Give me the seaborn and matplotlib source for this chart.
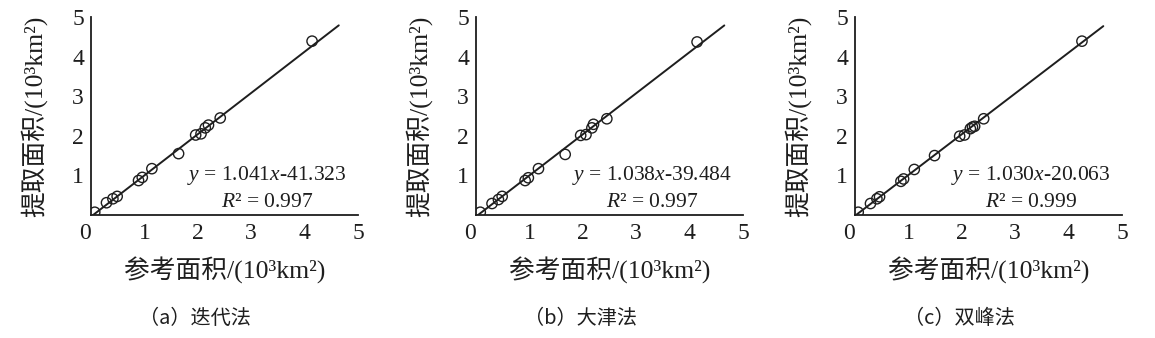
import matplotlib
matplotlib.use("Agg")
import matplotlib.pyplot as plt
import seaborn as sns
import numpy as np
import pandas as pd

# ---- data (units: 10^3 km^2) ----
ref_a = [0.07, 0.29, 0.41, 0.49, 0.89, 0.96, 1.14, 1.64, 1.96, 2.06, 2.14, 2.20, 2.42, 4.14]
ext_a = [0.07, 0.31, 0.41, 0.47, 0.87, 0.95, 1.17, 1.55, 2.02, 2.05, 2.20, 2.27, 2.45, 4.39]
ref_b = [0.08, 0.30, 0.42, 0.49, 0.92, 0.98, 1.17, 1.67, 1.96, 2.06, 2.17, 2.20, 2.45, 4.14]
ext_b = [0.07, 0.29, 0.39, 0.47, 0.87, 0.94, 1.17, 1.53, 2.01, 2.03, 2.20, 2.29, 2.43, 4.37]
ref_c = [0.06, 0.29, 0.41, 0.46, 0.86, 0.91, 1.11, 1.49, 1.96, 2.05, 2.16, 2.20, 2.24, 2.41, 4.25]
ext_c = [0.07, 0.29, 0.41, 0.46, 0.85, 0.91, 1.15, 1.50, 1.99, 2.02, 2.18, 2.22, 2.24, 2.43, 4.39]

slopes = [1.041, 1.038, 1.030]
intercepts_km2 = [-41.323, -39.484, -20.063]
r2_values = [0.997, 0.997, 0.999]
line_x_end = [4.64, 4.65, 4.65]
captions = ["（a）迭代法", "（b）大津法", "（c）双峰法"]
xlabel = "参考面积/(10³km²)"
ylabel = "提取面积/(10³km²)"
xticks = [0, 1, 2, 3, 4, 5]
yticks = [1, 2, 3, 4, 5]

sns.set_theme(style="white")
plt.rcParams["font.family"] = ["Liberation Serif", "Noto Sans CJK SC", "DejaVu Sans"]
plt.rcParams["mathtext.fontset"] = "custom"
plt.rcParams["mathtext.rm"] = "Liberation Serif"
plt.rcParams["mathtext.it"] = "Liberation Serif:italic"

W, H = 1155, 338
fig = plt.figure(figsize=(W / 100, H / 100), dpi=100)

lefts_px = [91, 476, 855]
ax_w_px = 267
top_px, bot_px = 17, 215
ink = "#1e1e1e"

datasets = [(ref_a, ext_a), (ref_b, ext_b), (ref_c, ext_c)]
for i, (rx, ry) in enumerate(datasets):
    ax = fig.add_axes([lefts_px[i] / W, (H - bot_px) / H, ax_w_px / W, (bot_px - top_px) / H])
    df = pd.DataFrame({"ref": rx, "ext": ry})
    b = intercepts_km2[i] / 1000.0
    k = slopes[i]
    x0 = -b / k
    lx = np.linspace(x0, line_x_end[i], 50)
    ldf = pd.DataFrame({"x": lx, "y": k * lx + b})
    sns.lineplot(data=ldf, x="x", y="y", ax=ax, color=ink, lw=1.4)
    sns.scatterplot(data=df, x="ref", y="ext", ax=ax, s=55, facecolor="none",
                    edgecolor=ink, linewidth=1.0, marker="o")
    ax.set_xlim(0, 5)
    ax.set_ylim(0, 5)
    ax.set_xticks(xticks)
    ax.set_yticks(yticks)
    ax.tick_params(direction="in", length=4, width=1, colors=ink,
                   labelsize=17, pad=5, labelcolor=ink)
    ax.tick_params(axis="x", pad=6)
    for lab in ax.get_xticklabels():
        if lab.get_text() == "0":
            lab.set_horizontalalignment("right")
    sns.despine(ax=ax)
    for sp in ["left", "bottom"]:
        ax.spines[sp].set_linewidth(1.3)
        ax.spines[sp].set_color(ink)
    ax.set_xlabel(xlabel, fontsize=18.5, labelpad=9, color=ink)
    ax.set_ylabel(ylabel, fontsize=18.5, labelpad=18, color=ink)
    ax.text(3.3, 1.0, f"$y$ = {k:.3f}$x${intercepts_km2[i]:.3f}", ha="center", va="center",
            fontsize=15.5, color=ink)
    ax.text(3.3, 0.32, f"$R$² = {r2_values[i]:.3f}", ha="center", va="center",
            fontsize=15.5, color=ink)
    fig.text((lefts_px[i] + 104) / W, 1 - 318 / H, captions[i], ha="center", va="center",
             fontsize=14.5, color=ink, family=["Noto Sans CJK SC", "DejaVu Sans"])

fig.savefig("out.png", dpi=100, facecolor="white")
